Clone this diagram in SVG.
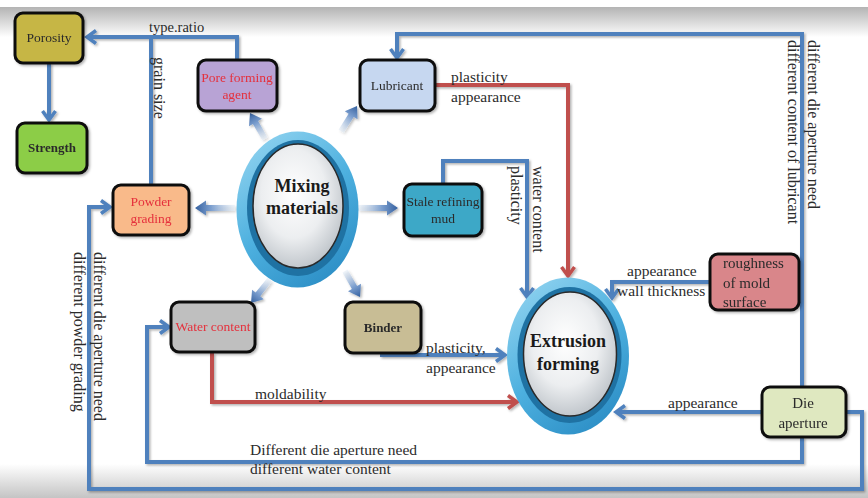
<svg xmlns="http://www.w3.org/2000/svg" xmlns:xlink="http://www.w3.org/1999/xlink" width="868" height="498" viewBox="0 0 868 498">
  <defs>
    <linearGradient id="bgTop" x1="0" y1="0" x2="0" y2="1">
      <stop offset="0" stop-color="#b4b4b4"/>
      <stop offset="1" stop-color="#ffffff"/>
    </linearGradient>
    <linearGradient id="bgBottom" x1="0" y1="0" x2="0" y2="1">
      <stop offset="0" stop-color="#ffffff"/>
      <stop offset="1" stop-color="#c4c4c4"/>
    </linearGradient>
    <linearGradient id="ringGrad" x1="0.2" y1="0" x2="0.8" y2="1">
      <stop offset="0" stop-color="#8fd2ef"/>
      <stop offset="0.5" stop-color="#4db0df"/>
      <stop offset="1" stop-color="#2a8cc4"/>
    </linearGradient>
    <radialGradient id="faceGrad" cx="0.45" cy="0.4" r="0.65">
      <stop offset="0" stop-color="#ffffff"/>
      <stop offset="0.55" stop-color="#eceef0"/>
      <stop offset="1" stop-color="#b9bfc5"/>
    </radialGradient>
    <linearGradient id="spokeGrad" x1="0" y1="0" x2="1" y2="0">
      <stop offset="0" stop-color="#dce7f3" stop-opacity="0.4"/>
      <stop offset="0.6" stop-color="#7c9fcf"/>
      <stop offset="1" stop-color="#34609f"/>
    </linearGradient>
    <filter id="shadow" x="-10%" y="-10%" width="130%" height="130%">
      <feDropShadow dx="1.5" dy="1.5" stdDeviation="1" flood-color="#000" flood-opacity="0.3"/>
    </filter>
    <marker id="ahBlue" markerUnits="userSpaceOnUse" markerWidth="16" markerHeight="18" refX="13" refY="9" orient="auto">
      <path d="M4,2.5 L13,9 L4,15.5" fill="none" stroke="#4f81bd" stroke-width="3.5"/>
    </marker>
    <marker id="ahRed" markerUnits="userSpaceOnUse" markerWidth="16" markerHeight="18" refX="13" refY="9" orient="auto">
      <path d="M4,2.5 L13,9 L4,15.5" fill="none" stroke="#c0504d" stroke-width="3.5"/>
    </marker>
    <!-- short gradient spokes leaving the mixing hub, tip at origin pointing +x -->
    <path id="spoke" d="M-30,-3 H-11 V-7.5 L0,0 L-11,7.5 V3 H-30 Z" fill="url(#spokeGrad)"/>
    <path id="spokeLong" d="M-40,-3 H-11 V-7.5 L0,0 L-11,7.5 V3 H-40 Z" fill="url(#spokeGrad)"/>
  </defs>
  <style>
    text { font-family: "Liberation Serif", "Times New Roman", serif; fill: #2b2b2b; }
    .node rect { stroke: #111; stroke-width: 3; }
    .lbl { font-size: 13.5px; text-anchor: middle; }
    .red { fill: #e5303c; }
    .edge { font-size: 15.5px; }
    .hub { font-size: 18px; font-weight: bold; text-anchor: middle; fill: #1a1a1a; }
    .blue { fill: none; stroke: #4f81bd; stroke-width: 4; marker-end: url(#ahBlue); }
    .blue.plain { marker-end: none; }
    .redl { fill: none; stroke: #c0504d; stroke-width: 4; marker-end: url(#ahRed); }
  </style>

  <!-- page -->
  <rect width="868" height="498" fill="#ffffff"/>
  <rect x="0" y="7" width="868" height="30" fill="url(#bgTop)"/>
  <rect x="0" y="464" width="868" height="34" fill="url(#bgBottom)"/>

  <!-- connectors -->
  <g id="connectors" filter="url(#shadow)">
    <path class="blue" d="M237,60 V37 H87"/>
    <path class="blue plain" d="M151,185 V37"/>
    <path class="blue" d="M49,63 V120"/>
    <path class="blue" d="M802,388 V34 H397 V58"/>
    <path class="blue" d="M802,437 V462 H147 V327 H169"/>
    <path class="blue" d="M846,412 H862 V489 H89 V207 H110"/>
    <path class="blue" d="M762,412 H616"/>
    <path class="blue" d="M709,282 H612 V298"/>
    <path class="blue" d="M443,184 V161 H527 V297"/>
    <path class="blue" d="M382,353 V355 H505"/>
    <path class="redl" d="M435,85 H568 V276"/>
    <path class="redl" d="M212,353 V402 H517"/>

    <use xlink:href="#spoke" transform="translate(250,113) rotate(-120)"/>
    <use xlink:href="#spoke" transform="translate(357,106) rotate(-58)"/>
    <use xlink:href="#spokeLong" transform="translate(195,208) rotate(180)"/>
    <use xlink:href="#spokeLong" transform="translate(398,208)"/>
    <use xlink:href="#spoke" transform="translate(251,303) rotate(129)"/>
    <use xlink:href="#spoke" transform="translate(360,297) rotate(60)"/>
  </g>

  <!-- connector labels -->
  <g id="edge-labels">
    <text class="edge" x="149" y="32" style="font-size:14.5px">type.ratio</text>
    <text class="edge" transform="translate(154,57) rotate(90)" style="font-size:16px">grain size</text>
    <text class="edge" x="451" y="82">plasticity</text>
    <text class="edge" x="451" y="102">appearance</text>
    <text class="edge" transform="translate(533,166) rotate(90)" style="font-size:16px">water content</text>
    <text class="edge" transform="translate(511,166) rotate(90)" style="font-size:16px">plasticity</text>
    <text class="edge" transform="translate(808,40) rotate(90)" style="font-size:16px">different die aperture need</text>
    <text class="edge" transform="translate(788,40) rotate(90)" style="font-size:16px">different  content of lubricant</text>
    <text class="edge" transform="translate(94,252) rotate(90)" style="font-size:16px">different die aperture need</text>
    <text class="edge" transform="translate(74,252) rotate(90)" style="font-size:16px">different  powder grading</text>
    <text class="edge" x="627" y="276">appearance</text>
    <text class="edge" x="617" y="296">wall thickness</text>
    <text class="edge" x="426" y="353">plasticity,</text>
    <text class="edge" x="426" y="373">appearance</text>
    <text class="edge" x="255" y="399">moldability</text>
    <text class="edge" x="668" y="408">appearance</text>
    <text class="edge" x="250" y="455">Different die aperture need</text>
    <text class="edge" x="250" y="474">different water content</text>
  </g>

  <!-- nodes -->
  <g id="porosity" class="node" filter="url(#shadow)">
    <rect x="15" y="13" width="68" height="50" rx="8" fill="#c6b644"/>
    <text class="lbl" x="49" y="42">Porosity</text>
  </g>
  <g id="strength" class="node" filter="url(#shadow)">
    <rect x="17" y="123" width="70" height="50" rx="8" fill="#8ccd47"/>
    <text class="lbl" x="52" y="152" style="font-weight:bold;font-size:13px">Strength</text>
  </g>
  <g id="pore-forming-agent" class="node" filter="url(#shadow)">
    <rect x="198" y="60" width="79" height="51" rx="8" fill="#b8a3d5"/>
    <text class="lbl red" x="237" y="82">Pore forming</text>
    <text class="lbl red" x="237" y="99">agent</text>
  </g>
  <g id="lubricant" class="node" filter="url(#shadow)">
    <rect x="360" y="60" width="75" height="51" rx="8" fill="#c6d7f0"/>
    <text class="lbl" x="397" y="90">Lubricant</text>
  </g>
  <g id="powder-grading" class="node" filter="url(#shadow)">
    <rect x="113" y="185" width="76" height="50" rx="8" fill="#f9ba8a"/>
    <text class="lbl red" x="151" y="206">Powder</text>
    <text class="lbl red" x="151" y="223">grading</text>
  </g>
  <g id="stale-refining-mud" class="node" filter="url(#shadow)">
    <rect x="404" y="184" width="78" height="52" rx="8" fill="#3ea8c7"/>
    <text class="lbl" x="443" y="206">Stale refining</text>
    <text class="lbl" x="443" y="223">mud</text>
  </g>
  <g id="water-content" class="node" filter="url(#shadow)">
    <rect x="171" y="302" width="84" height="50" rx="8" fill="#bfbfbf"/>
    <text class="lbl red" x="213" y="331">Water content</text>
  </g>
  <g id="binder" class="node" filter="url(#shadow)">
    <rect x="345" y="302" width="76" height="51" rx="8" fill="#c8bd95"/>
    <text class="lbl" x="383" y="332" style="font-weight:bold;font-size:13px">Binder</text>
  </g>
  <g id="roughness-of-mold-surface" class="node" filter="url(#shadow)">
    <rect x="710" y="254" width="89" height="56" rx="8" fill="#d9868a"/>
    <text x="723" y="268" style="font-size:15px">roughness</text>
    <text x="723" y="288" style="font-size:15px">of mold</text>
    <text x="723" y="307" style="font-size:15px">surface</text>
  </g>
  <g id="die-aperture" class="node" filter="url(#shadow)">
    <rect x="762" y="387" width="84" height="50" rx="8" fill="#dfe8c0"/>
    <text class="lbl" x="803" y="408" style="font-size:15px">Die</text>
    <text class="lbl" x="803" y="428" style="font-size:15px">aperture</text>
  </g>

  <g id="mixing-materials">
    <ellipse cx="297.5" cy="209.5" rx="61" ry="78" fill="url(#ringGrad)"/>
    <ellipse cx="298" cy="208" rx="51" ry="68" fill="#1f72a3"/>
    <ellipse cx="298" cy="206" rx="45" ry="62" fill="url(#faceGrad)" stroke="#2a2a2a" stroke-width="1.5"/>
    <text class="hub" x="302" y="192">Mixing</text>
    <text class="hub" x="302" y="214">materials</text>
  </g>
  <g id="extrusion-forming">
    <ellipse cx="568" cy="356" rx="61" ry="78.5" fill="url(#ringGrad)"/>
    <ellipse cx="569.5" cy="355" rx="52" ry="68" fill="#1f72a3"/>
    <ellipse cx="570" cy="354" rx="46.5" ry="62" fill="url(#faceGrad)" stroke="#2a2a2a" stroke-width="1.5"/>
    <text class="hub" x="568" y="347">Extrusion</text>
    <text class="hub" x="568" y="370">forming</text>
  </g>
</svg>
